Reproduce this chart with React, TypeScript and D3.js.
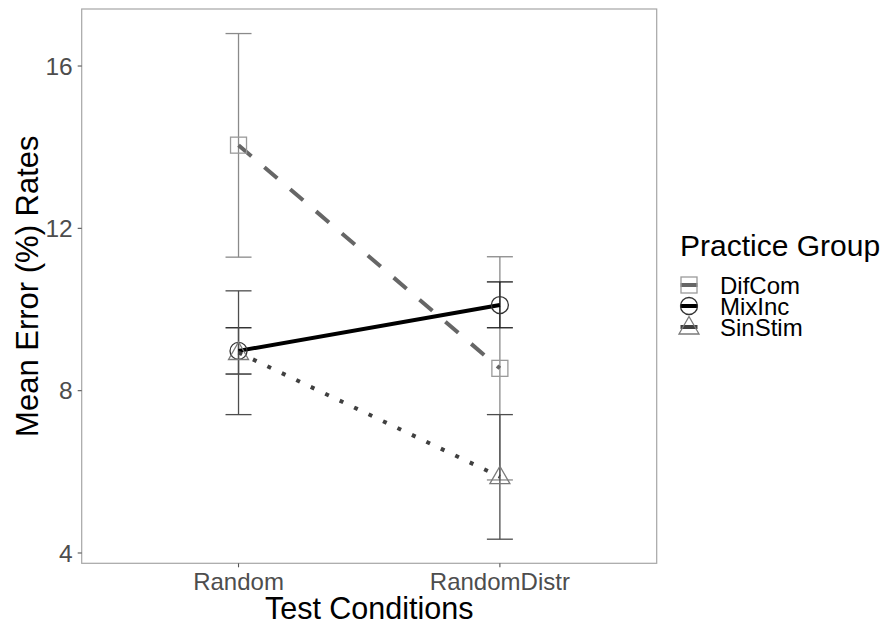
import React from "react";
import * as d3 from "d3";

const categories = ["Random", "RandomDistr"];
const groups = ["DifCom", "MixInc", "SinStim"];
const means: number[][] = [
  [14.05, 8.55],
  [8.98, 10.11],
  [8.94, 5.88],
];
const lowers: number[][] = [
  [11.29, 5.8],
  [8.41, 9.55],
  [7.41, 4.34],
];
const uppers: number[][] = [
  [16.8, 11.3],
  [9.55, 10.68],
  [10.46, 7.41],
];
const yTicks = [4, 8, 12, 16];

const errColors = ["#8a8a8a", "#1a1a1a", "#4d4d4d"];
const pointColors = ["#9a9a9a", "#333333", "#7a7a7a"];
const lineColors = ["#666666", "#000000", "#404040"];
const dashes = ["17,17", "none", "4,12"];

const W = 888, H = 625;
const L = 81.7, R = 656.7, T = 9, B = 563.3;

function Shape({ g, x, y, c }: { g: number; x: number; y: number; c: string }) {
  if (g === 0) return <rect x={x - 8} y={y - 8} width={16} height={16} fill="none" stroke={c} strokeWidth={1.3} />;
  if (g === 1) return <circle cx={x} cy={y} r={8.5} fill="none" stroke={c} strokeWidth={1.3} />;
  const s = 10;
  return (
    <path
      d={`M${x},${y - s * 1.05} L${x + s},${y + s * 0.7} L${x - s},${y + s * 0.7} Z`}
      fill="none"
      stroke={c}
      strokeWidth={1.3}
    />
  );
}

export default function App() {
  const x = d3.scalePoint<string>().domain(categories).range([L, R]).padding(0.6);
  const y = d3.scaleLinear().domain([3.746, 17.405]).range([B, T]);
  const line = d3
    .line<[number, number]>()
    .x((d) => d[0])
    .y((d) => d[1]);
  const font = "'Liberation Sans', Arial, Helvetica, sans-serif";
  const capW = 13;

  return (
    <svg width={W} height={H} style={{ position: "absolute", left: 0, top: 0, fontFamily: font }}>
      <rect x={0} y={0} width={W} height={H} fill="white" />
      {/* error bars */}
      {groups.map((g, gi) =>
        categories.map((c, ci) => {
          const cx = x(c)!;
          return (
            <g key={g + c} stroke={errColors[gi]} strokeWidth={1.3}>
              <line x1={cx} x2={cx} y1={y(lowers[gi][ci])} y2={y(uppers[gi][ci])} />
              <line x1={cx - capW} x2={cx + capW} y1={y(lowers[gi][ci])} y2={y(lowers[gi][ci])} />
              <line x1={cx - capW} x2={cx + capW} y1={y(uppers[gi][ci])} y2={y(uppers[gi][ci])} />
            </g>
          );
        })
      )}
      {/* lines */}
      {groups.map((g, gi) => (
        <path
          key={"l" + g}
          d={line(categories.map((c, ci) => [x(c)!, y(means[gi][ci])]))!}
          fill="none"
          stroke={lineColors[gi]}
          strokeWidth={4}
          strokeDasharray={dashes[gi]}
          strokeLinecap="butt"
        />
      ))}
      {/* points */}
      {groups.map((g, gi) =>
        categories.map((c, ci) => (
          <Shape key={"p" + g + c} g={gi} x={x(c)!} y={y(means[gi][ci])} c={pointColors[gi]} />
        ))
      )}
      {/* panel border */}
      <rect x={L} y={T} width={R - L} height={B - T} fill="none" stroke="#a6a6a6" strokeWidth={1.2} />
      {/* y axis */}
      {yTicks.map((t) => (
        <g key={"y" + t}>
          <line x1={L - 4} x2={L} y1={y(t)} y2={y(t)} stroke="#555" strokeWidth={1.1} />
          <text x={L - 9} y={y(t)} dy="0.36em" textAnchor="end" fontSize={24.5} fill="#4d4d4d">
            {t}
          </text>
        </g>
      ))}
      {/* x axis */}
      {categories.map((c) => (
        <g key={"x" + c}>
          <line x1={x(c)!} x2={x(c)!} y1={B} y2={B + 4} stroke="#555" strokeWidth={1.1} />
          <text x={x(c)!} y={590} textAnchor="middle" fontSize={24} fill="#4d4d4d">
            {c}
          </text>
        </g>
      ))}
      <text x={(L + R) / 2} y={619} textAnchor="middle" fontSize={30.5} fill="#000">
        Test Conditions
      </text>
      <text
        transform={`translate(38,${(T + B) / 2}) rotate(-90)`}
        textAnchor="middle"
        fontSize={31}
        fill="#000"
      >
        Mean Error (%) Rates
      </text>
      {/* legend */}
      <text x={680} y={256} fontSize={30} fill="#000">
        Practice Group
      </text>
      {groups.map((g, gi) => {
        const cy = 285 + gi * 21;
        const kx = 689;
        return (
          <g key={"lg" + g}>
            <line
              x1={kx - 8.5}
              x2={kx + 8.5}
              y1={cy}
              y2={cy}
              stroke={lineColors[gi]}
              strokeWidth={4}
            />
            <Shape g={gi} x={kx} y={cy} c={pointColors[gi]} />
            <text x={720} y={cy} dy="0.36em" fontSize={24} fill="#000">
              {g}
            </text>
          </g>
        );
      })}
    </svg>
  );
}
